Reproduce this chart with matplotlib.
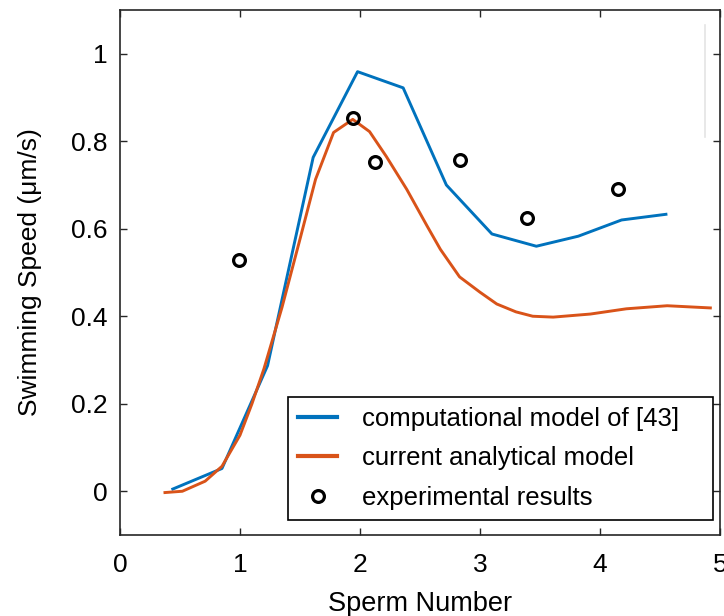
import matplotlib
matplotlib.use("Agg")
import matplotlib.pyplot as plt
from matplotlib.lines import Line2D

plt.rcParams["font.family"] = ["Liberation Sans", "DejaVu Sans"]

# computational model of [43]
comp_x = [0.44, 0.85, 1.23, 1.61, 1.98, 2.36, 2.72, 3.10, 3.47, 3.82, 4.18, 4.55]
comp_y = [0.005, 0.052, 0.287, 0.763, 0.959, 0.922, 0.700, 0.588, 0.560, 0.583, 0.620, 0.633]

# current analytical model
anal_x = [0.375, 0.52, 0.71, 0.85, 1.00, 1.10, 1.20, 1.35, 1.50, 1.63, 1.78, 1.94,
          2.08, 2.22, 2.39, 2.56, 2.67, 2.83, 3.00, 3.14, 3.30, 3.44, 3.61, 3.92,
          4.22, 4.56, 4.92]
anal_y = [-0.003, 0.000, 0.023, 0.057, 0.128, 0.200, 0.280, 0.420, 0.576, 0.713, 0.820, 0.850,
          0.822, 0.765, 0.690, 0.606, 0.553, 0.490, 0.455, 0.428, 0.410, 0.400, 0.398, 0.405,
          0.417, 0.424, 0.419]

# experimental results
exp_x = [0.99, 1.94, 2.125, 2.83, 3.39, 4.15]
exp_y = [0.528, 0.852, 0.752, 0.756, 0.624, 0.690]

blue = "#0072BD"
orange = "#D95319"

fig = plt.figure(figsize=(7.24, 6.16), dpi=100)
ax = fig.add_axes([0.1657, 0.1315, 0.8287, 0.8523])

ax.plot(comp_x, comp_y, color=blue, linewidth=2.1, label="computational model of [43]")
ax.plot(anal_x, anal_y, color=orange, linewidth=2.1, label="current analytical model")
ax.plot(exp_x, exp_y, linestyle="none", marker="o", markersize=8.5, markerfacecolor="none",
        markeredgecolor="black", markeredgewidth=2.3, label="experimental results")

ax.set_xlim(0, 5)
ax.set_ylim(-0.1, 1.1)
ax.set_xticks([0, 1, 2, 3, 4, 5])
ax.set_yticks([0, 0.2, 0.4, 0.6, 0.8, 1])
ax.set_yticklabels(["0", "0.2", "0.4", "0.6", "0.8", "1"])
ax.tick_params(direction="in", top=True, right=True, length=5, width=1,
               colors="#262626", labelsize=19, labelcolor="black", pad=9)
ax.tick_params(axis="x", pad=13.3)
for s in ax.spines.values():
    s.set_color("#262626")
    s.set_linewidth(1.2)

ax.set_xlabel("Sperm Number", fontsize=19.5, labelpad=10)
ax.set_ylabel("Swimming Speed (\u03bcm/s)", fontsize=19, labelpad=20.5)

leg = ax.legend(loc="lower left", bbox_to_anchor=(0.28, 0.0286, 0.708, 0.2), mode="expand",
                fontsize=18.5, frameon=True, fancybox=False, framealpha=1, edgecolor="black",
                handlelength=1.5, handletextpad=1.0, labelspacing=0.6, borderpad=0.4,
                borderaxespad=0)
leg.get_frame().set_linewidth(1.2)
for h in leg.legend_handles[:2]:
    h.set_linewidth(3)

# faint vertical artifact near the right edge
fig.add_artist(Line2D([705 / 724, 705 / 724], [1 - 25 / 616, 1 - 137 / 616],
                      color="#e4e4e4", linewidth=1.2))

fig.savefig("out.png", dpi=100)
